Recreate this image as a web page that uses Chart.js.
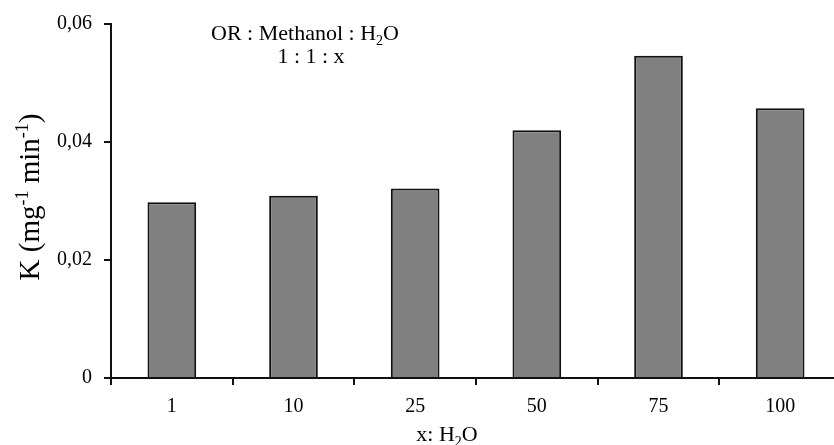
<!DOCTYPE html>
<html>
<head>
<meta charset="utf-8">
<script src="https://cdn.jsdelivr.net/npm/chart.js@4.4.0/dist/chart.umd.min.js"></script>
<style>
  html, body { margin: 0; padding: 0; background: #fff; overflow: hidden; }
  #wrap { width: 842px; height: 445px; }
</style>
</head>
<body>
<div id="wrap"><canvas id="kChart" width="842" height="445"></canvas></div>
<script>
// water amount x in OR : Methanol : H2O = 1 : 1 : x
const categories = ['1', '10', '25', '50', '75', '100'];
// rate constant K (mg-1 min-1)
const kValues = [0.0298, 0.0309, 0.0321, 0.0420, 0.0546, 0.0457];
const yTickValues = [0, 0.02, 0.04, 0.06];
const yTickLabels = ['0', '0,02', '0,04', '0,06'];

const serif = "'Liberation Serif', 'Times New Roman', serif";

// draws a line of text with sub/superscript pieces
function drawRich(ctx, parts, x, y, size, align) {
    const small = Math.round(size * 0.62);
    let total = 0;
    parts.forEach(p => {
        ctx.font = (p.sub || p.sup ? small : size) + 'px ' + serif;
        p.w = ctx.measureText(p.t).width;
        total += p.w;
    });
    let cx = align === 'center' ? x - total / 2 : x;
    parts.forEach(p => {
        ctx.font = (p.sub || p.sup ? small : size) + 'px ' + serif;
        let dy = 0;
        if (p.sub) dy = size * 0.22;
        if (p.sup) dy = -size * 0.38;
        ctx.fillText(p.t, cx, y + dy);
        cx += p.w;
    });
}

const labelsPlugin = {
    id: 'labels',
    afterDraw(chart) {
        const ctx = chart.ctx;
        ctx.save();
        ctx.fillStyle = '#000';
        ctx.textAlign = 'left';
        ctx.textBaseline = 'alphabetic';

        // note in the top left
        drawRich(ctx, [{t: 'OR : Methanol : H'}, {t: '2', sub: true}, {t: 'O'}], 305, 40, 22, 'center');
        drawRich(ctx, [{t: '1 : 1 : x'}], 311, 63, 22, 'center');

        // x axis title
        drawRich(ctx, [{t: 'x: H'}, {t: '2', sub: true}, {t: 'O'}], 447, 441, 22, 'center');

        // y axis title
        ctx.translate(39, 197);
        ctx.rotate(-Math.PI / 2);
        drawRich(ctx, [{t: 'K (mg'}, {t: '-1', sup: true}, {t: ' min'}, {t: '-1', sup: true}, {t: ')'}], 0, 0, 29, 'center');
        ctx.restore();
    }
};

const ctx = document.getElementById('kChart').getContext('2d');
const kChart = new Chart(ctx, {
    type: 'bar',
    data: {
        labels: categories,
        datasets: [{
            label: 'K',
            data: kValues,
            backgroundColor: '#808080',
            borderColor: '#111',
            borderWidth: 2,
            borderSkipped: 'bottom',
            categoryPercentage: 1,
            barPercentage: 0.4
        }]
    },
    options: {
        responsive: false,
        animation: false,
        layout: { padding: { top: 21, right: 1, left: 0, bottom: 0 } },
        plugins: {
            legend: { display: false },
            tooltip: { enabled: false }
        },
        scales: {
            x: {
                offset: true,
                afterFit: s => { s.height = 67; },
                border: { color: '#111', width: 2 },
                grid: {
                    offset: true,
                    drawOnChartArea: false,
                    drawTicks: true,
                    tickLength: 7,
                    tickColor: '#111',
                    lineWidth: 2
                },
                ticks: {
                    color: '#000',
                    padding: 10,
                    font: { family: serif, size: 20 }
                }
            },
            y: {
                min: 0,
                max: 0.06,
                afterFit: s => { s.width = 111; },
                afterBuildTicks: s => { s.ticks = yTickValues.map(v => ({ value: v })); },
                border: { color: '#111', width: 2 },
                grid: {
                    drawOnChartArea: false,
                    drawTicks: true,
                    tickLength: 7,
                    tickColor: '#111',
                    lineWidth: 2
                },
                ticks: {
                    color: '#000',
                    padding: 12,
                    font: { family: serif, size: 20 },
                    callback: (v) => {
                        const i = yTickValues.findIndex(t => Math.abs(t - v) < 1e-9);
                        return i >= 0 ? yTickLabels[i] : '';
                    }
                }
            }
        }
    },
    plugins: [labelsPlugin]
});
</script>
</body>
</html>
